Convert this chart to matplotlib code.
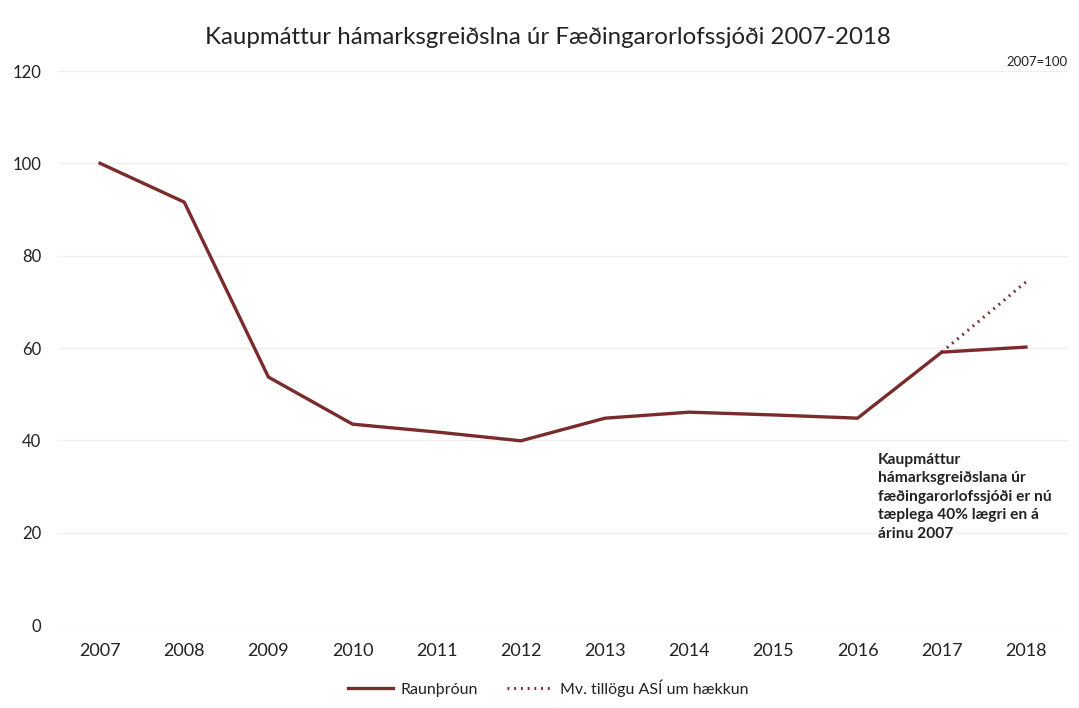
import matplotlib
matplotlib.use("Agg")
import matplotlib.pyplot as plt

years = ["2007", "2008", "2009", "2010", "2011", "2012", "2013", "2014", "2015", "2016", "2017", "2018"]
raunthroun = [100, 91.6, 53.7, 43.5, 41.8, 39.9, 44.8, 46.1, 45.5, 44.8, 59.1, 60.2]
tillaga_years = ["2017", "2018"]
tillaga = [59.1, 74.3]
yticks = [0, 20, 40, 60, 80, 100, 120]

plt.rcParams['font.family'] = ['Lato', 'DejaVu Sans']
color = '#7a2b2b'

fig = plt.figure(figsize=(10.79, 7.08), dpi=100)
ax = fig.add_axes([58/1079, 1-625/708, (1068-58)/1079, (625-71)/708])

x = list(range(len(years)))
ax.plot(x, raunthroun, color=color, lw=2.4, label='Raunþróun', solid_joinstyle='round')
xt = [years.index(y) for y in tillaga_years]
ax.plot(xt, tillaga, color=color, lw=2.2, ls=(0, (0.6, 1.6)), label='Mv. tillögu ASÍ um hækkun')

ax.set_xlim(-0.5, len(years) - 0.5)
ax.set_ylim(0, 120)
ax.set_yticks(yticks)
ax.set_yticklabels([str(v) for v in yticks], fontsize=12, color='#222222')
ax.set_xticks(x)
ax.set_xticklabels(years, fontsize=13, color='#222222')
ax.tick_params(length=0)
ax.tick_params(axis='y', pad=12)
ax.tick_params(axis='x', pad=13)
for s in ax.spines.values():
    s.set_visible(False)
ax.grid(axis='y', color='#efefef', lw=0.9)
ax.set_axisbelow(True)

fig.text(548/1079, 1-38/708, 'Kaupmáttur hámarksgreiðslna úr Fæðingarorlofssjóði 2007-2018',
         ha='center', va='center', fontsize=17.3, color='#222222')
fig.text(1068/1079, 1-62/708, '2007=100', ha='right', va='center', fontsize=9.5, color='#222222')

fig.text(878/1079, 1-453/708,
         'Kaupmáttur\nhámarksgreiðslana úr\nfæðingarorlofssjóði er nú\ntæplega 40% lægri en á\nárinu 2007',
         ha='left', va='top', fontsize=11.2, fontweight='bold', color='#222222', linespacing=1.4)

fig.legend(loc='center', bbox_to_anchor=(548/1079, 1-688/708), ncol=2, frameon=False,
           fontsize=11.5, handlelength=2.8, columnspacing=1.8, handletextpad=0.5, labelcolor='#222222')

fig.savefig('out.png', dpi=100, facecolor='white')
